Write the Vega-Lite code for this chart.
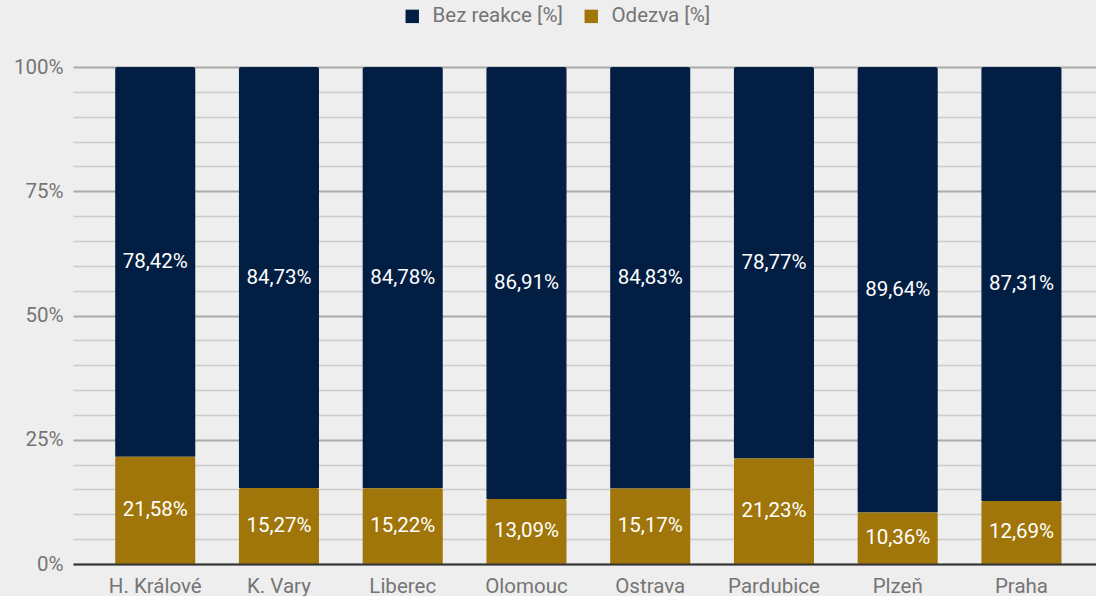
{
  "$schema": "https://vega.github.io/schema/vega-lite/v6.json",
  "width": 1023,
  "height": 497,
  "autosize": {"type": "none"},
  "padding": {"left": 73, "top": 67, "right": 0, "bottom": 32},
  "background": "#eeeeee",
  "config": {
    "view": {"stroke": null},
    "font": "Roboto",
    "locale": {"number": {"decimal": ",", "thousands": " ", "grouping": [3], "currency": ["", " Kč"]}}
  },
  "data": {
    "values": [
      {"mesto": "H. Králové", "serie": "Bez reakce [%]", "podil": 0.7842},
      {"mesto": "H. Králové", "serie": "Odezva [%]", "podil": 0.2158},
      {"mesto": "K. Vary", "serie": "Bez reakce [%]", "podil": 0.8473},
      {"mesto": "K. Vary", "serie": "Odezva [%]", "podil": 0.1527},
      {"mesto": "Liberec", "serie": "Bez reakce [%]", "podil": 0.8478},
      {"mesto": "Liberec", "serie": "Odezva [%]", "podil": 0.1522},
      {"mesto": "Olomouc", "serie": "Bez reakce [%]", "podil": 0.8691},
      {"mesto": "Olomouc", "serie": "Odezva [%]", "podil": 0.1309},
      {"mesto": "Ostrava", "serie": "Bez reakce [%]", "podil": 0.8483},
      {"mesto": "Ostrava", "serie": "Odezva [%]", "podil": 0.1517},
      {"mesto": "Pardubice", "serie": "Bez reakce [%]", "podil": 0.7877},
      {"mesto": "Pardubice", "serie": "Odezva [%]", "podil": 0.2123},
      {"mesto": "Plzeň", "serie": "Bez reakce [%]", "podil": 0.8964},
      {"mesto": "Plzeň", "serie": "Odezva [%]", "podil": 0.1036},
      {"mesto": "Praha", "serie": "Bez reakce [%]", "podil": 0.8731},
      {"mesto": "Praha", "serie": "Odezva [%]", "podil": 0.1269}
    ]
  },
  "transform": [
    {"stack": "podil", "groupby": ["mesto"], "sort": [{"field": "serie", "order": "descending"}], "as": ["y0", "y1"]},
    {"calculate": "(datum.y0 + datum.y1) / 2", "as": "ymid"}
  ],
  "encoding": {
    "x": {
      "field": "mesto",
      "type": "nominal",
      "sort": null,
      "title": null,
      "scale": {"paddingInner": 0.353, "paddingOuter": 0.31, "align": 0.55},
      "axis": {
        "labelAngle": 0,
        "labelFontSize": 20.5,
        "labelColor": "#757575",
        "labelPadding": 12,
        "ticks": false,
        "domainColor": "#333333",
        "domainWidth": 2,
        "grid": false,
        "zindex": 1
      }
    }
  },
  "layer": [
    {
      "mark": {"type": "bar", "cornerRadiusTopLeft": 2, "cornerRadiusTopRight": 2},
      "encoding": {
        "y": {
          "field": "y0",
          "type": "quantitative",
          "scale": {"domain": [0, 1], "nice": false},
          "title": null,
          "axis": {
            "values": [0, 0.05, 0.1, 0.15, 0.2, 0.25, 0.3, 0.35, 0.4, 0.45, 0.5, 0.55, 0.6, 0.65, 0.7, 0.75, 0.8, 0.85, 0.9, 0.95, 1],
            "labelExpr": "indexof([0, 25, 50, 75, 100], round(datum.value * 100)) >= 0 ? round(datum.value * 100) + '%' : ''",
            "labelOverlap": false,
            "labelFontSize": 20.5,
            "labelColor": "#757575",
            "labelPadding": 10,
            "ticks": false,
            "domain": false,
            "gridColor": {"condition": {"test": "indexof([0, 25, 50, 75, 100], round(datum.value * 100)) >= 0", "value": "#aaaaaa"}, "value": "#cccccc"},
            "gridWidth": {"condition": {"test": "indexof([0, 25, 50, 75, 100], round(datum.value * 100)) >= 0", "value": 2}, "value": 1.5},
            "zindex": 0
          }
        },
        "y2": {"field": "y1"},
        "color": {
          "field": "serie",
          "type": "nominal",
          "scale": {"domain": ["Bez reakce [%]", "Odezva [%]"], "range": ["#031e43", "#a0760a"]},
          "legend": {
            "title": null,
            "orient": "none",
            "direction": "horizontal",
            "legendX": 329,
            "legendY": -61,
            "symbolType": "square",
            "symbolSize": 180,
            "symbolStrokeWidth": 0,
            "labelFontSize": 20.5,
            "labelColor": "#757575",
            "columnPadding": 18,
            "labelOffset": 10
          }
        }
      }
    },
    {
      "mark": {"type": "text", "color": "#ffffff", "fontSize": 20.5, "baseline": "middle"},
      "encoding": {
        "y": {
          "field": "ymid",
          "type": "quantitative",
          "title": null,
          "axis": {
            "values": [0, 0.05, 0.1, 0.15, 0.2, 0.25, 0.3, 0.35, 0.4, 0.45, 0.5, 0.55, 0.6, 0.65, 0.7, 0.75, 0.8, 0.85, 0.9, 0.95, 1],
            "labelExpr": "indexof([0, 25, 50, 75, 100], round(datum.value * 100)) >= 0 ? round(datum.value * 100) + '%' : ''",
            "labelOverlap": false,
            "labelFontSize": 20.5,
            "labelColor": "#757575",
            "labelPadding": 10,
            "ticks": false,
            "domain": false,
            "gridColor": {"condition": {"test": "indexof([0, 25, 50, 75, 100], round(datum.value * 100)) >= 0", "value": "#aaaaaa"}, "value": "#cccccc"},
            "gridWidth": {"condition": {"test": "indexof([0, 25, 50, 75, 100], round(datum.value * 100)) >= 0", "value": 2}, "value": 1.5},
            "zindex": 0
          }
        },
        "text": {"field": "podil", "type": "quantitative", "format": ".2%"}
      }
    }
  ]
}
